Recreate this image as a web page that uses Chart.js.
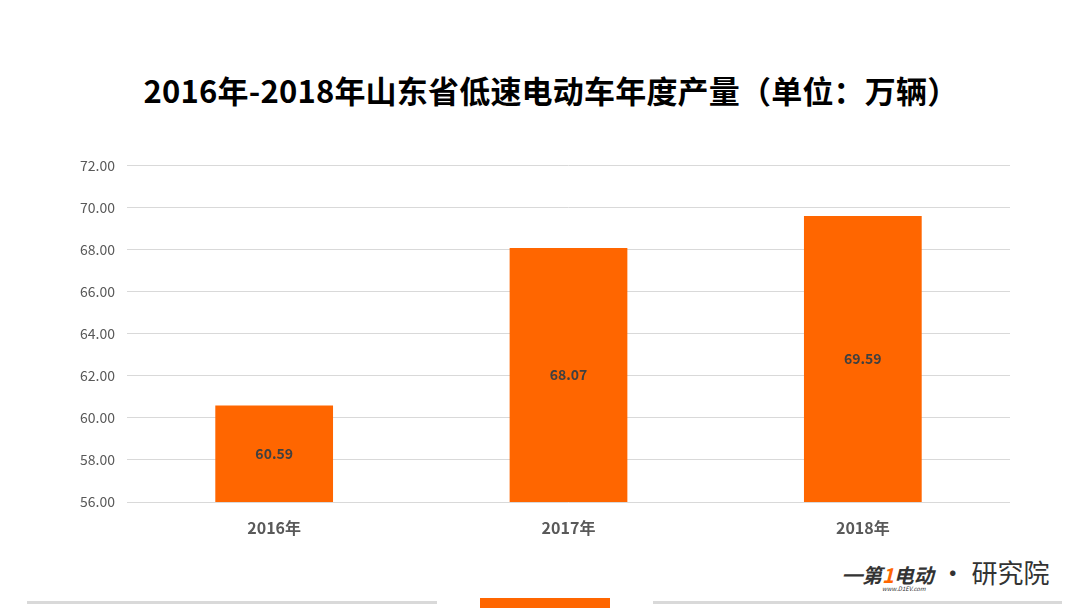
<!DOCTYPE html>
<html>
<head>
<meta charset="utf-8">
<script src="https://cdn.jsdelivr.net/npm/chart.js@4/dist/chart.umd.min.js"></script>
<style>
  body { margin: 0; width: 1080px; height: 608px; background: #fff; position: relative; overflow: hidden; font-family: "Noto Sans CJK SC", "Noto Sans", sans-serif; }
  #title { position: absolute; top: 67px; left: 11px; width: 1080px; text-align: center; font-size: 31px; font-weight: bold; color: #000; letter-spacing: 0.2px; }
  #wrap { position: absolute; left: 0; top: 145px; width: 1080px; height: 405px; }
  #logo { position: absolute; left: 842px; top: 553px; font-size: 26px; color: #333; white-space: nowrap; }
  #logo .b { font-weight: bold; font-style: italic; font-size: 20px; }
  #logo .one { color: #ff6600; }
  #logo .site { position: absolute; left: 40px; top: 31px; font-size: 6px; font-style: italic; color: #333; }
  .bar { position: absolute; top: 601px; height: 3px; background: #d9d9d9; }
  #tab { position: absolute; left: 480px; top: 598px; width: 130px; height: 10px; background: #ff6600; }
</style>
</head>
<body>
<div id="title">2016年-2018年山东省低速电动车年度产量（单位：万辆）</div>
<div id="wrap"><canvas id="myChart"></canvas></div>
<div id="logo"><span class="b">━第<span class="one">1</span>电动</span> · 研究院<span class="site">www.D1EV.com</span></div>
<div class="bar" style="left:27px;width:410px"></div>
<div id="tab"></div>
<div class="bar" style="left:653px;width:409px"></div>
<script>
const categories = ['2016年', '2017年', '2018年'];
const output = [60.59, 68.07, 69.59];
const yMin = 56;
const yMax = 72;
const yStep = 2;

// value labels in the middle of each bar
const barLabels = {
  id: 'barLabels',
  afterDraw(chart) {
    const c = chart.ctx;
    const xs = chart.scales.x;
    const ys = chart.scales.y;
    c.save();
    c.font = 'bold 14px "Noto Sans CJK SC", sans-serif';
    c.fillStyle = '#404040';
    c.textAlign = 'center';
    c.textBaseline = 'middle';
    output.forEach((v, i) => {
      const x = xs.getPixelForValue(i);
      const mid = (ys.getPixelForValue(v) + ys.getPixelForValue(yMin)) / 2;
      c.fillText(v.toFixed(2), x, mid);
    });
    c.restore();
  }
};

const ctx = document.getElementById('myChart').getContext('2d');
new Chart(ctx, {
  type: 'bar',
  data: {
    labels: categories,
    datasets: [{
      data: output,
      backgroundColor: '#ff6600',
      borderWidth: 0,
      categoryPercentage: 1,
      barPercentage: 0.4,
    }],
  },
  options: {
    responsive: true,
    maintainAspectRatio: false,
    animation: false,
    layout: { padding: { left: 0, right: 70, top: 6, bottom: 0 } },
    plugins: {
      legend: { display: false },
      tooltip: { enabled: false },
    },
    scales: {
      x: {
        grid: { display: false, drawTicks: false },
        border: { display: false },
        ticks: {
          padding: 16,
          color: '#595959',
          font: { size: 16, weight: 'bold', family: '"Noto Sans CJK SC", sans-serif' },
        },
        afterFit(scale) { scale.height = 48; },
      },
      y: {
        min: yMin,
        max: yMax,
        grid: { color: '#d9d9d9', drawTicks: false },
        border: { display: false },
        ticks: {
          stepSize: yStep,
          padding: 12,
          color: '#595959',
          font: { size: 14, family: '"Noto Sans CJK SC", sans-serif' },
          callback: v => v.toFixed(2),
        },
        afterFit(scale) { scale.width = 127; },
      },
    },
  },
  plugins: [barLabels],
});
</script>
</body>
</html>
